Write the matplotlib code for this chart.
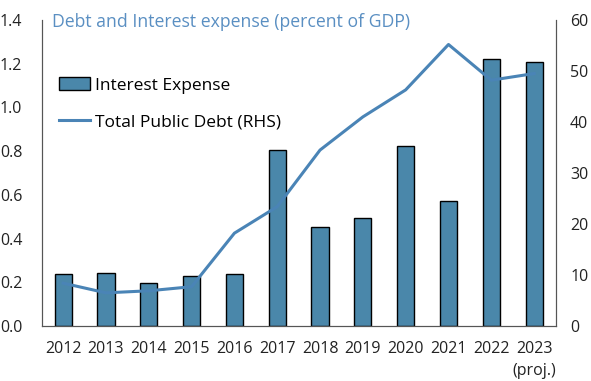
import matplotlib
matplotlib.use("Agg")
import matplotlib.pyplot as plt

# Daten
years = ["2012", "2013", "2014", "2015", "2016", "2017", "2018", "2019", "2020", "2021", "2022", "2023\n(proj.)"]
interest_expense = [0.238, 0.242, 0.195, 0.229, 0.238, 0.805, 0.452, 0.494, 0.825, 0.573, 1.220, 1.206]
public_debt = [8.4, 6.5, 6.9, 7.7, 18.2, 23.4, 34.5, 41.0, 46.3, 55.2, 48.2, 49.5]

plt.rcParams['font.family'] = ['Open Sans', 'DejaVu Sans']

bar_color = "#4a87aa"
line_color = "#4a84b6"

fig = plt.figure(figsize=(5.91, 3.81), dpi=100)
ax = fig.add_axes([0.0706, 0.1444, 0.8694, 0.8031])
ax2 = ax.twinx()

x = list(range(len(years)))
ax.bar(x, interest_expense, width=0.4, color=bar_color, edgecolor="black", linewidth=1.0,
       label="Interest Expense", zorder=2)
ax2.plot(x, public_debt, color=line_color, linewidth=2.2, label="Total Public Debt (RHS)", zorder=3)

ax.set_xlim(-0.5, len(years) - 0.5)
ax.set_ylim(0, 1.4)
ax.set_yticks([0.0, 0.2, 0.4, 0.6, 0.8, 1.0, 1.2, 1.4])
ax.set_yticklabels([f"{v:.1f}" for v in ax.get_yticks()])
ax2.set_ylim(0, 60)
ax2.set_yticks(range(0, 61, 10))

ax.set_xticks(x)
ax.set_xticklabels(years, linespacing=1.45)

for a in (ax, ax2):
    a.spines["top"].set_visible(False)
    a.tick_params(length=0, labelsize=11.5, colors="#222222", pad=6)
    for s in ("left", "right", "bottom"):
        a.spines[s].set_color("#555555")
        a.spines[s].set_linewidth(0.8)
ax.tick_params(axis="x", pad=11)
ax2.tick_params(axis="y", pad=10.5)
ax.tick_params(axis="y", pad=14)

fig.text(0.088, 0.942, "Debt and Interest expense (percent of GDP)", color="#5a8fc2",
         fontsize=12.7, va="center", ha="left")

h1, l1 = ax.get_legend_handles_labels()
h2, l2 = ax2.get_legend_handles_labels()
ax.legend(h1 + h2, l1 + l2, loc="upper left", bbox_to_anchor=(0.02, 0.835), frameon=False,
          fontsize=12.5, handlelength=1.8, handletextpad=0.3, labelspacing=1.2, borderaxespad=0)

fig.savefig("out.png", dpi=100)
